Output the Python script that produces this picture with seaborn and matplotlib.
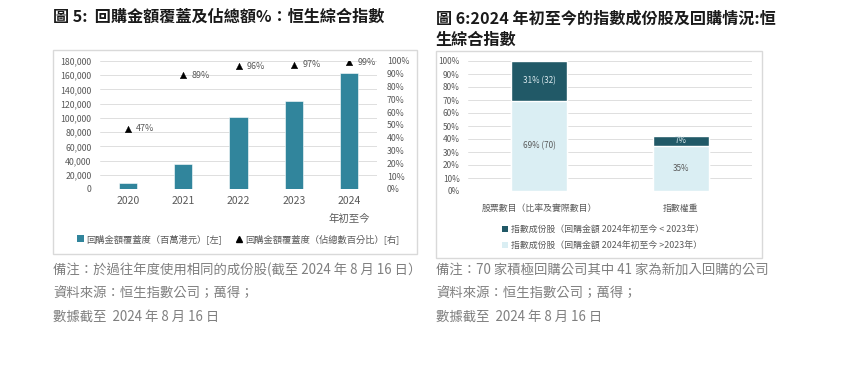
#!/usr/bin/env python3

import numpy as np
import pandas as pd
import matplotlib
matplotlib.use("Agg")
import matplotlib.pyplot as plt
import matplotlib.patches as mpatches
from matplotlib.lines import Line2D
from matplotlib.ticker import FuncFormatter
import seaborn as sns

sns.set_theme(style="white")
plt.rcParams['font.family'] = ['Noto Sans CJK TC', 'DejaVu Sans']

# ---- chart 5 data ----
years = ['2020', '2021', '2022', '2023', '2024\n年初至今']
buyback_amt = [8000, 34500, 101500, 123500, 163000]      # 百萬港元
buyback_pct = [0.47, 0.89, 0.96, 0.97, 0.99]             # 佔總數百分比

# ---- chart 6 data ----
cats6 = ['股票數目（比率及實際數目）', '指數權重']
share_gt = [0.69, 0.35]          # 2024年初至今 > 2023年
share_lt = [0.31, 0.07]          # 2024年初至今 < 2023年
labels_gt = ['69% (70)', '35%']
labels_lt = ['31% (32)', '7%']

teal = '#31859C'
dark = '#215967'
light = '#DAEEF3'
grid_c = '#D9D9D9'
tick_c = '#595959'
note_c = '#7F7F7F'

W, H = 848, 375
fig = plt.figure(figsize=(W / 100, H / 100), dpi=100)


def fx(px):
    return px / W


def fy(py):
    return 1 - py / H


def frame(x0, y0, x1, y1):
    fig.patches.append(mpatches.Rectangle((fx(x0), fy(y1)), fx(x1 - x0), (y1 - y0) / H,
                                          transform=fig.transFigure, fill=False,
                                          edgecolor=grid_c, linewidth=1.0))


# titles
fig.text(fx(53), fy(17), '圖 5:  回購金額覆蓋及佔總額%：恒生綜合指數', fontsize=11.6,
         fontweight='bold', color='#1a1a1a', va='center')
fig.text(fx(436), fy(18), '圖 6:2024 年初至今的指數成份股及回購情況:恒', fontsize=11.6,
         fontweight='bold', color='#1a1a1a', va='center')
fig.text(fx(436), fy(40), '生綜合指數', fontsize=11.6,
         fontweight='bold', color='#1a1a1a', va='center')

frame(53, 50, 417, 254)
frame(436, 51, 762, 258)

# ---------------- chart 5 ----------------
ax = fig.add_axes([fx(100), fy(189), fx(277), 128 / H])
df5 = pd.DataFrame({'year': years, 'amt': buyback_amt})
sns.barplot(data=df5, x='year', y='amt', color=teal, width=0.33, ax=ax,
            saturation=1, edgecolor='white', linewidth=0.4)
ax.set_ylim(0, 180000)
ax.set_xlim(-0.5, 4.5)
ax.set_yticks(np.arange(0, 180001, 20000))
ax.yaxis.set_major_formatter(FuncFormatter(lambda v, p: f'{int(v):,}'))
ax.grid(axis='y', color=grid_c, linewidth=0.6)
ax.set_axisbelow(True)
ax.set_xlabel('')
ax.set_ylabel('')
for s in ax.spines.values():
    s.set_visible(False)
ax.tick_params(axis='y', labelsize=6.3, colors=tick_c, length=0, pad=6)
ax.tick_params(axis='x', labelsize=7.5, colors=tick_c, length=0, pad=5)
for lab in ax.get_xticklabels():
    lab.set_linespacing(1.9)

ax2 = ax.twinx()
xs = np.arange(len(years))
sns.scatterplot(x=xs, y=buyback_pct, marker='^', color='black', s=22, ax=ax2,
                edgecolor='black', linewidth=0.3)
for xv, pv in zip(xs, buyback_pct):
    ax2.annotate(f'{pv:.0%}', (xv, pv), xytext=(6, 0), textcoords='offset points',
                 fontsize=6.5, color=tick_c, va='center')
ax2.set_ylim(0, 1)
ax2.set_yticks(np.arange(0, 1.01, 0.1))
ax2.yaxis.set_major_formatter(FuncFormatter(lambda v, p: f'{v:.0%}'))
ax2.tick_params(axis='y', labelsize=6.3, colors=tick_c, length=0, pad=7)
for s in ax2.spines.values():
    s.set_visible(False)
ax2.set_xlim(-0.5, 4.5)

h5 = [mpatches.Patch(facecolor=teal, edgecolor='none'),
      Line2D([], [], marker='^', color='black', linestyle='none', markersize=5)]
l5 = ['回購金額覆蓋度（百萬港元）[左]', '回購金額覆蓋度（佔總數百分比）[右]']
fig.legend(h5, l5, loc='center', bbox_to_anchor=(fx(238), fy(239)), ncol=2,
           frameon=False, fontsize=6.7, handlelength=0.8, handleheight=0.8,
           handletextpad=0.2, columnspacing=1.5, labelcolor=tick_c)

# ---------------- chart 6 ----------------
bx = fig.add_axes([fx(468), fy(191), fx(284), 130 / H])
df6 = pd.DataFrame({'cat': cats6,
                    'total': [a + b for a, b in zip(share_gt, share_lt)],
                    'gt': share_gt})
sns.barplot(data=df6, x='cat', y='total', color=dark, width=0.4, ax=bx, saturation=1)
sns.barplot(data=df6, x='cat', y='gt', color=light, width=0.4, ax=bx, saturation=1)
bx.set_ylim(0, 1)
bx.set_xlim(-0.5, 1.5)
bx.set_yticks(np.arange(0, 1.01, 0.1))
bx.yaxis.set_major_formatter(FuncFormatter(lambda v, p: f'{v:.0%}'))
bx.grid(axis='y', color=grid_c, linewidth=0.6)
bx.set_axisbelow(True)
bx.set_xlabel('')
bx.set_ylabel('')
for s in bx.spines.values():
    s.set_visible(False)
bx.tick_params(axis='y', labelsize=6, colors=tick_c, length=0, pad=6)
bx.tick_params(axis='x', labelsize=6.4, colors=tick_c, length=0, pad=9)

for i, (g, l) in enumerate(zip(share_gt, share_lt)):
    bx.text(i, g / 2, labels_gt[i], ha='center', va='center', fontsize=5.8, color=tick_c)
    bx.text(i, g + l / 2, labels_lt[i], ha='center', va='center', fontsize=5.8,
            color='#DDEBF0')

h6 = [mpatches.Patch(facecolor=dark, edgecolor='none'),
      mpatches.Patch(facecolor=light, edgecolor='none')]
l6 = ['指數成份股（回購金額 2024年初至今 < 2023年）',
      '指數成份股（回購金額 2024年初至今 >2023年）']
fig.legend(h6, l6, loc='upper left', bbox_to_anchor=(fx(494), fy(217)), ncol=1,
           frameon=False, fontsize=6.4, handlelength=0.7, handleheight=0.7,
           handletextpad=0.3, labelspacing=0.8, labelcolor=tick_c)

# notes
notes5 = ['備注：於過往年度使用相同的成份股(截至 2024 年 8 月 16 日）',
          '資料來源：恒生指數公司；萬得；',
          '數據截至  2024 年 8 月 16 日']
notes6 = ['備注：70 家積極回購公司其中 41 家為新加入回購的公司',
          '資料來源：恒生指數公司；萬得；',
          '數據截至  2024 年 8 月 16 日']
for k, yy in enumerate([270, 294, 317]):
    fig.text(fx(53), fy(yy), notes5[k], fontsize=9.6, color=note_c, va='center')
    fig.text(fx(436), fy(yy), notes6[k], fontsize=9.6, color=note_c, va='center')

fig.savefig('out.png', dpi=100)
